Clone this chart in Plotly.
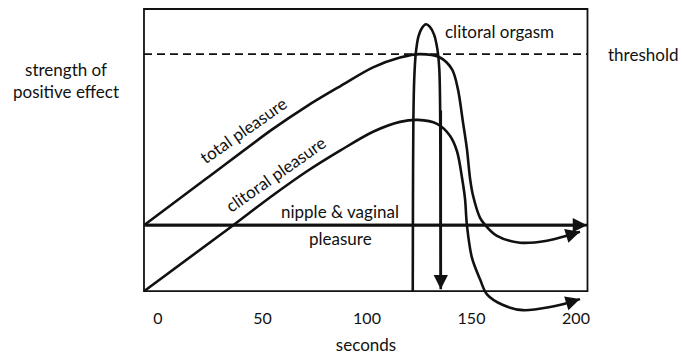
import plotly.graph_objects as go

# ---- data (seconds, strength of positive effect on a 0-100 box scale) ----
total_x = [-6.7, 23.3, 55.0, 71.3, 87.1, 102.9, 115.8, 125.4, 134.9, 140.7, 143.5, 145.9,
           147.8, 149.3, 150.7, 154.1, 156.5, 162.2, 173.2, 186.1, 197.1, 201.9]
total_y = [23.4, 40.0, 57.5, 65.6, 72.6, 79.3, 82.8, 84.0, 82.8, 78.6, 71.6, 60.0,
           50.5, 40.0, 34.0, 26.0, 23.5, 19.6, 17.2, 17.9, 20.0, 21.1]

clit_x = [-6.7, 34.4, 55.0, 71.3, 87.1, 102.9, 115.8, 124.4, 133.5, 139.7, 143.1, 145.5,
          146.9, 147.8, 150.2, 154.1, 157.4, 165.1, 174.6, 187.6, 197.1, 201.9]
clit_y = [0.0, 22.5, 34.0, 42.5, 49.8, 56.5, 60.0, 60.7, 59.3, 55.1, 49.5, 40.0,
          32.8, 23.5, 11.9, 4.2, -1.1, -4.9, -6.7, -5.6, -3.9, -2.8]

orgasm_x = [121.9, 122.0, 122.2, 122.6, 123.3, 124.6, 126.3, 128.2, 130.1, 132.1, 133.7,
            134.6, 135.0, 135.2, 135.3]
orgasm_y = [0.0, 33.0, 61.1, 75.1, 83.9, 90.2, 93.3, 94.6, 93.7, 90.9, 85.6,
            78.6, 64.6, 33.0, 0.7]

nipple_x = [-6.7, 205.3]
nipple_y = [23.4, 23.4]

threshold_level = 84.0
box_x = [-6.7, 205.5]
box_y = [0.0, 100.0]

tick_vals = [0, 50, 100, 150, 200]
tick_text = ["0", "50", "100", "150", "200"]

FONT = "Lato"
INK = "#111111"
LW = 2.6
FS = 17

fig = go.Figure()

for xs, ys in [(total_x, total_y), (clit_x, clit_y), (orgasm_x, orgasm_y), (nipple_x, nipple_y)]:
    fig.add_trace(go.Scatter(
        x=xs, y=ys, mode="lines",
        line=dict(color=INK, width=LW, shape="spline", smoothing=0.9),
        hoverinfo="skip", showlegend=False))

# frame and threshold
fig.add_shape(type="rect", xref="x", yref="y",
              x0=box_x[0], x1=box_x[1], y0=box_y[0], y1=box_y[1],
              line=dict(color=INK, width=1.8), layer="below")
fig.add_shape(type="line", xref="x", yref="y",
              x0=box_x[0], x1=box_x[1], y0=threshold_level, y1=threshold_level,
              line=dict(color=INK, width=1.6, dash="8px,5px"))

# arrowheads at the ends of the curves
def arrow(xs, ys, k=2):
    fig.add_annotation(x=xs[-1], y=ys[-1], ax=xs[-k], ay=ys[-k],
                       xref="x", yref="y", axref="x", ayref="y",
                       text="", showarrow=True, arrowhead=2, arrowsize=1.1,
                       arrowwidth=LW, arrowcolor=INK, standoff=0)

arrow(total_x, total_y)
arrow(clit_x, clit_y)
arrow(nipple_x, nipple_y)
fig.add_annotation(x=orgasm_x[-1], y=orgasm_y[-1], ax=orgasm_x[-1], ay=orgasm_y[-3],
                   xref="x", yref="y", axref="x", ayref="y",
                   text="", showarrow=True, arrowhead=2, arrowsize=1.1,
                   arrowwidth=LW, arrowcolor=INK, standoff=0)

# labels
txt = dict(font=dict(family=FONT, size=FS, color=INK), showarrow=False,
           xanchor="center", yanchor="middle")
fig.add_annotation(x=40.7, y=56.8, xref="x", yref="y", text="total pleasure", textangle=-35, **txt)
fig.add_annotation(x=56.0, y=41.4, xref="x", yref="y", text="clitoral pleasure", textangle=-35, **txt)
fig.add_annotation(x=87.1, y=28.4, xref="x", yref="y", text="nipple &amp; vaginal", **txt)
fig.add_annotation(x=87.1, y=18.6, xref="x", yref="y", text="pleasure", **txt)
fig.add_annotation(x=163.2, y=91.9, xref="x", yref="y", text="clitoral orgasm", **txt)
fig.add_annotation(x=1.113, y=0.847, xref="paper", yref="paper", text="threshold", **txt)
fig.add_annotation(x=-0.164, y=0.763, xref="paper", yref="paper",
                   text="strength of<br>positive effect", align="center", **txt)

fig.update_layout(
    width=682, height=360,
    margin=dict(l=140, r=90, t=8, b=44),
    paper_bgcolor="white", plot_bgcolor="white",
    font=dict(family=FONT, size=FS, color=INK),
    showlegend=False,
    hovermode=False,
    xaxis=dict(range=[-8.61, 207.66], showgrid=False, zeroline=False, showline=False,
               ticks="", tickvals=tick_vals, ticktext=tick_text,
               tickfont=dict(family=FONT, size=16, color=INK),
               ticklabelstandoff=-6,
               title=dict(text="seconds", font=dict(family=FONT, size=FS, color=INK), standoff=13)),
    yaxis=dict(range=[-7.72, 100.35], showgrid=False, zeroline=False, showline=False,
               showticklabels=False, ticks=""),
)

fig.write_html("out.html",
               config={"displayModeBar": False, "staticPlot": True},
               post_script="document.body.style.margin='0px';document.body.style.overflow='hidden';")
